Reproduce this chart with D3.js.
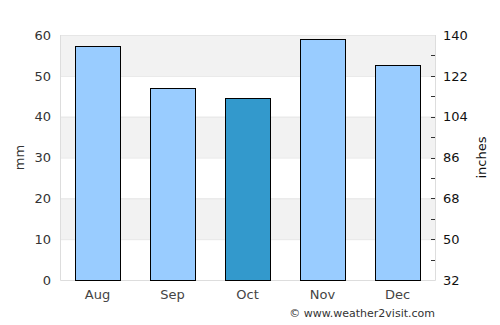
<!DOCTYPE html>
<html>
<head>
<meta charset="utf-8">
<script src="https://cdn.jsdelivr.net/npm/d3@7"></script>
<style>
  body { margin: 0; background: #fff; }
  svg text { font-family: "DejaVu Sans", sans-serif; }
</style>
</head>
<body>
<div id="chart"></div>
<script>
// data
const months = ["Aug", "Sep", "Oct", "Nov", "Dec"];
const rainfall = [57.2, 47.0, 44.6, 59.0, 52.7];
const highlight = ["Oct"];
const leftTicks = [0, 10, 20, 30, 40, 50, 60];
const rightTicks = [32, 50, 68, 86, 104, 122, 140];

const width = 500, height = 325;
const margin = {top: 35, right: 65, bottom: 45, left: 60};

const svg = d3.select("#chart").append("svg")
  .attr("width", width)
  .attr("height", height);

const x = d3.scaleBand()
  .domain(months)
  .range([margin.left, width - margin.right])
  .paddingInner(0.4)
  .paddingOuter(0.2);

const y = d3.scaleLinear()
  .domain([0, 60])
  .range([height - margin.bottom, margin.top]);

const y2 = d3.scaleLinear()
  .domain([32, 140])
  .range([height - margin.bottom, margin.top]);

// alternating background bands
const bands = d3.range(0, 60, 10).filter((d, i) => i % 2 == 1);
svg.selectAll(".band")
  .data(bands)
  .join("rect")
    .attr("x", margin.left)
    .attr("width", width - margin.right - margin.left)
    .attr("y", d => y(d + 10))
    .attr("height", d => y(d) - y(d + 10))
    .attr("fill", "#f2f2f2");

// grid lines
svg.selectAll(".grid")
  .data(leftTicks.slice(1))
  .join("line")
    .attr("x1", margin.left)
    .attr("x2", width - margin.right)
    .attr("y1", d => y(d) + 0.5)
    .attr("y2", d => y(d) + 0.5)
    .attr("stroke", "#e6e6e6");

// frame lines (left, bottom, right)
svg.append("path")
  .attr("d", `M${margin.left + 0.5},${margin.top}V${height - margin.bottom + 0.5}H${width - margin.right + 0.5}V${margin.top}`)
  .attr("fill", "none")
  .attr("stroke", "#dddddd");

// bars
svg.selectAll(".bar")
  .data(months)
  .join("rect")
    .attr("x", d => Math.round(x(d)) + 0.5)
    .attr("width", Math.round(x.bandwidth()))
    .attr("y", (d, i) => Math.round(y(rainfall[i])) + 0.5)
    .attr("height", (d, i) => Math.round(y(0)) - Math.round(y(rainfall[i])))
    .attr("fill", d => highlight.includes(d) ? "#3399cc" : "#99ccff")
    .attr("stroke", "#000")
    .attr("stroke-width", 1);

// left axis
const leftAxis = svg.append("g")
  .attr("transform", `translate(${margin.left},0)`)
  .call(d3.axisLeft(y).tickValues(leftTicks).tickSize(0).tickPadding(9));
leftAxis.select(".domain").remove();
leftAxis.selectAll("text")
  .attr("fill", "#333")
  .style("font-size", "13px");

// right axis with minor ticks
const minorTicks = d3.range(32, 141, 9);
svg.selectAll(".rtick")
  .data(minorTicks.filter(d => d > 32 && d < 140))
  .join("line")
    .attr("x1", width - margin.right - 4)
    .attr("x2", width - margin.right)
    .attr("y1", d => Math.round(y2(d)) + 0.5)
    .attr("y2", d => Math.round(y2(d)) + 0.5)
    .attr("stroke", "#333");

const rightAxis = svg.append("g")
  .attr("transform", `translate(${width - margin.right},0)`)
  .call(d3.axisRight(y2).tickValues(rightTicks).tickSize(0).tickPadding(8));
rightAxis.select(".domain").remove();
rightAxis.selectAll("text")
  .attr("fill", "#111")
  .style("font-size", "13px");

// bottom axis
const bottomAxis = svg.append("g")
  .attr("transform", `translate(0,${height - margin.bottom})`)
  .call(d3.axisBottom(x).tickSize(0).tickPadding(10));
bottomAxis.select(".domain").remove();
bottomAxis.selectAll("text")
  .attr("fill", "#444")
  .style("font-size", "13px");

// axis titles
svg.append("text")
  .attr("transform", `translate(24,${(margin.top + height - margin.bottom) / 2}) rotate(-90)`)
  .attr("text-anchor", "middle")
  .attr("fill", "#333")
  .style("font-size", "13px")
  .text("mm");

svg.append("text")
  .attr("transform", `translate(486,${(margin.top + height - margin.bottom) / 2}) rotate(-90)`)
  .attr("text-anchor", "middle")
  .attr("fill", "#111")
  .style("font-size", "13px")
  .text("inches");

// credit
svg.append("text")
  .attr("x", width - margin.right)
  .attr("y", 317)
  .attr("text-anchor", "end")
  .attr("fill", "#333")
  .style("font-size", "11px")
  .text("© www.weather2visit.com");
</script>
</body>
</html>
